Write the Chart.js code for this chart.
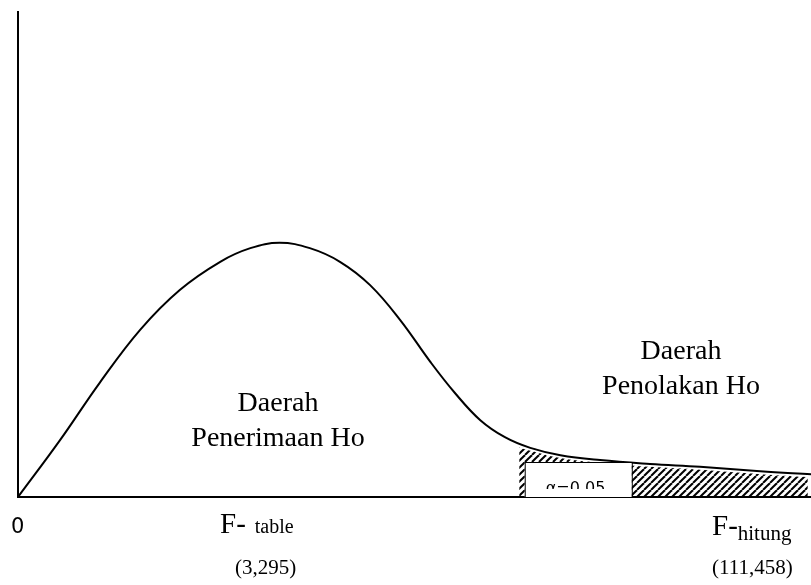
<!DOCTYPE html>
<html>
<head>
<meta charset="utf-8">
<script src="https://cdn.jsdelivr.net/npm/chart.js@4.4.1/dist/chart.umd.min.js"></script>
<style>
  html, body { margin: 0; padding: 0; background: #fff; }
  #wrap { width: 811px; height: 585px; }
</style>
</head>
<body>
<div id="wrap"><canvas id="chart"></canvas></div>
<script>
// F-distribution curve (x: arbitrary units, y: density)
const curveX = [0, 0.53, 1.03, 1.54, 2.04, 2.55, 2.93, 3.30, 3.68, 4.06, 4.44, 4.82, 5.20, 5.51, 5.83, 6.14, 6.46, 6.84, 7.34, 7.97, 8.60, 9.36, 10.0];
const curveY = [0, 0.117, 0.235, 0.344, 0.426, 0.484, 0.512, 0.523, 0.512, 0.484, 0.436, 0.364, 0.278, 0.214, 0.158, 0.123, 0.101, 0.086, 0.076, 0.068, 0.062, 0.053, 0.047];

// rejection region (hatched), sits just under the curve
const tailX = [6.32, 6.46, 6.84, 7.34, 7.97, 8.60, 9.36, 9.96];
const tailY = [0.102, 0.095, 0.080, 0.070, 0.062, 0.056, 0.047, 0.041];

const regionLabels = [['Daerah', 'Penerimaan Ho'], ['Daerah', 'Penolakan Ho']];
const axisLabels = ['0', 'F-', 'table', '(3,295)', 'F-', 'hitung', '(111,458)'];
const alphaLabel = 'α=0.05';

const toPoints = (xs, ys) => xs.map((x, i) => ({ x: x, y: ys[i] }));

// diagonal hatch "////"
function makeHatch() {
    const c = document.createElement('canvas');
    c.width = 7; c.height = 7;
    const g = c.getContext('2d');
    g.strokeStyle = '#000';
    g.lineWidth = 2;
    [-7, 0, 7].forEach(o => {
        g.beginPath();
        g.moveTo(o, 7);
        g.lineTo(o + 7, 0);
        g.stroke();
    });
    return g.createPattern(c, 'repeat');
}

const ctx = document.getElementById('chart').getContext('2d');

const decorPlugin = {
    id: 'decor',
    afterDatasetsDraw: (chart) => {
        const { ctx, chartArea, scales } = chart;
        const x = scales.x, y = scales.y;
        const x0 = x.getPixelForValue(0), y0 = y.getPixelForValue(0);
        ctx.save();

        // axes
        ctx.strokeStyle = '#000';
        ctx.lineWidth = 2;
        ctx.beginPath();
        ctx.moveTo(x0, chartArea.top);
        ctx.lineTo(x0, y0);
        ctx.lineTo(chartArea.right, y0);
        ctx.stroke();

        // alpha box
        const bx1 = x.getPixelForValue(6.39), bx2 = x.getPixelForValue(7.74);
        const by1 = y.getPixelForValue(0.072);
        ctx.fillStyle = '#fff';
        ctx.fillRect(bx1, by1, bx2 - bx1, y0 - by1);
        ctx.lineWidth = 1;
        ctx.strokeRect(bx1 + 0.5, by1 + 0.5, bx2 - bx1, y0 - by1);
        ctx.save();
        ctx.beginPath();
        ctx.rect(bx1, by1, bx2 - bx1, y0 - 8 - by1);
        ctx.clip();
        ctx.fillStyle = '#000';
        ctx.font = '16px "DejaVu Sans"';
        ctx.fillText(alphaLabel, bx1 + 21, y0 - 4);
        ctx.restore();

        // region text
        ctx.fillStyle = '#000';
        ctx.textAlign = 'center';
        ctx.font = '28px "Liberation Serif"';
        ctx.fillText(regionLabels[0][0], 278, 411);
        ctx.fillText(regionLabels[0][1], 278, 446);
        ctx.fillText(regionLabels[1][0], 681, 359);
        ctx.fillText(regionLabels[1][1], 681, 394);

        // axis labels
        ctx.textAlign = 'left';
        ctx.font = '21px "DejaVu Sans"';
        ctx.fillText(axisLabels[0], 11, 533);

        ctx.font = '29px "Liberation Serif"';
        ctx.fillText(axisLabels[1], 220, 533);
        let w = ctx.measureText(axisLabels[1]).width;
        ctx.font = '20px "Liberation Serif"';
        ctx.fillText(axisLabels[2], 220 + w + 9, 533);

        ctx.font = '21px "Liberation Serif"';
        ctx.fillText(axisLabels[3], 235, 574);

        ctx.font = '29px "Liberation Serif"';
        ctx.fillText(axisLabels[4], 712, 535);
        w = ctx.measureText(axisLabels[4]).width;
        ctx.font = '21px "Liberation Serif"';
        ctx.fillText(axisLabels[5], 712 + w, 540);

        ctx.fillText(axisLabels[6], 712, 574);
        ctx.restore();
    }
};

new Chart(ctx, {
    type: 'line',
    data: {
        datasets: [{
            label: 'F',
            data: toPoints(curveX, curveY),
            borderColor: '#000',
            borderWidth: 2,
            pointRadius: 0,
            fill: false,
            tension: 0.4,
            order: 0
        }, {
            label: 'alpha',
            data: toPoints(tailX, tailY),
            borderWidth: 0,
            borderColor: 'rgba(0,0,0,0)',
            backgroundColor: makeHatch(),
            pointRadius: 0,
            fill: 'origin',
            tension: 0.4,
            order: 1
        }]
    },
    options: {
        responsive: true,
        maintainAspectRatio: false,
        animation: false,
        layout: { padding: { left: 18, right: 0, top: 11, bottom: 88 } },
        scales: {
            x: { type: 'linear', min: 0, max: 10, display: false },
            y: { min: 0, max: 1, display: false }
        },
        plugins: {
            legend: { display: false },
            tooltip: { enabled: false }
        }
    },
    plugins: [decorPlugin]
});
</script>
</body>
</html>
